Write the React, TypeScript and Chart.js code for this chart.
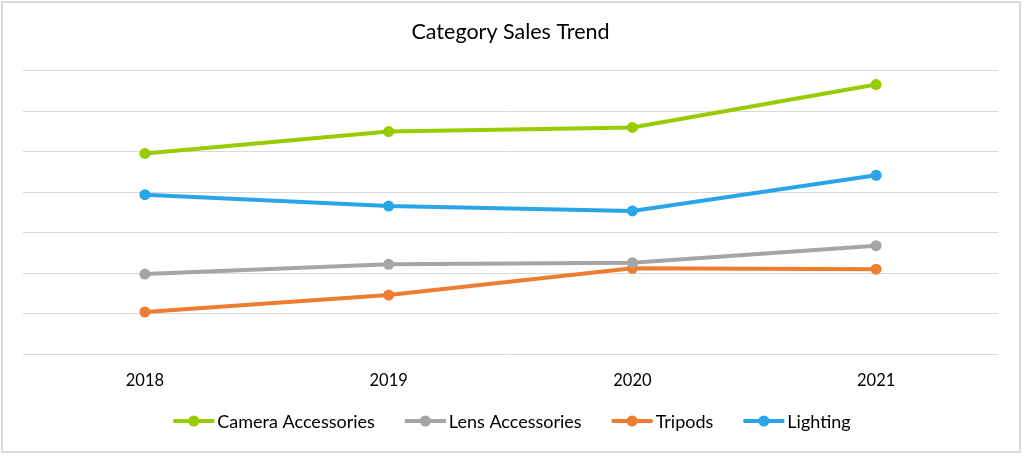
import React, { useEffect, useRef } from "react";
import { Chart, registerables } from "chart.js";

Chart.register(...registerables);

const years = ["2018", "2019", "2020", "2021"];
const cameraAccessories = [248, 275, 280, 333];
const lensAccessories = [99, 111, 113, 134];
const tripods = [52, 73, 106, 105];
const lighting = [197, 183, 177, 221];

const seriesNames = ["Camera Accessories", "Lens Accessories", "Tripods", "Lighting"];
const seriesColors = ["#99CC00", "#A5A5A5", "#ED7D31", "#2AA5E8"];

const FONT = "Lato, 'Noto Sans', sans-serif";

const LEGEND_LINE = 41;
const LEGEND_TEXT_GAP = 3;
const LEGEND_ITEM_GAP = 30;
const LEGEND_Y = 421;

const customLegend = {
  id: "customLegend",
  afterDraw(chart: any) {
    const ctx = chart.ctx as CanvasRenderingContext2D;
    ctx.save();
    ctx.font = `18px ${FONT}`;
    ctx.textBaseline = "middle";
    ctx.textAlign = "left";
    const items = chart.data.datasets.map((ds: any) => ({
      label: ds.label as string,
      color: ds.borderColor as string,
      w: ctx.measureText(ds.label).width,
    }));
    const total =
      items.reduce((s: number, it: any) => s + LEGEND_LINE + LEGEND_TEXT_GAP + it.w, 0) +
      LEGEND_ITEM_GAP * (items.length - 1);
    let x = chart.width / 2 - total / 2;
    const y = LEGEND_Y;
    items.forEach((it: any) => {
      ctx.strokeStyle = it.color;
      ctx.lineWidth = 4;
      ctx.lineCap = "butt";
      ctx.beginPath();
      ctx.moveTo(x, y);
      ctx.lineTo(x + LEGEND_LINE, y);
      ctx.stroke();
      ctx.fillStyle = it.color;
      ctx.beginPath();
      ctx.arc(x + LEGEND_LINE / 2, y, 5.5, 0, Math.PI * 2);
      ctx.fill();
      ctx.fillStyle = "#000";
      const tx = x + LEGEND_LINE + LEGEND_TEXT_GAP;
      ctx.fillText(it.label, tx, y + 1);
      x = tx + it.w + LEGEND_ITEM_GAP;
    });
    ctx.restore();
  },
};

export default function App() {
  const canvasRef = useRef<HTMLCanvasElement | null>(null);

  useEffect(() => {
    document.body.style.margin = "0";
    const canvas = canvasRef.current;
    if (!canvas) return;
    const values = [cameraAccessories, lensAccessories, tripods, lighting];
    const chart = new Chart(canvas, {
      type: "line",
      data: {
        labels: years,
        datasets: seriesNames.map((name, i) => ({
          label: name,
          data: values[i],
          borderColor: seriesColors[i],
          backgroundColor: seriesColors[i],
          borderWidth: 4,
          pointRadius: 5.5,
          pointBorderWidth: 0,
          pointBackgroundColor: seriesColors[i],
          tension: 0,
        })),
      },
      options: {
        responsive: false,
        animation: false,
        layout: { padding: { top: 10, bottom: 48, left: 23, right: 26 } },
        plugins: {
          legend: { display: false },
          tooltip: { enabled: false },
          title: {
            display: true,
            text: "Category Sales Trend",
            color: "#000",
            font: { family: FONT, size: 21.5, weight: "normal", lineHeight: 1.2 },
            padding: { top: 9, bottom: 26 },
          },
        },
        scales: {
          x: {
            offset: true,
            grid: { display: false, drawTicks: false },
            border: { display: false },
            ticks: {
              color: "#000",
              padding: 17,
              font: { family: FONT, size: 16.5, lineHeight: 1.2 },
            },
          },
          y: {
            min: 0,
            max: 350,
            ticks: { display: false, stepSize: 50 },
            grid: { color: "#D9D9D9", lineWidth: 1, drawTicks: false },
            border: { display: false },
          },
        },
      },
      plugins: [customLegend],
    });
    return () => chart.destroy();
  }, []);

  return (
    <div style={{ position: "fixed", left: 0, top: 0, width: 1024, height: 456, background: "#fff" }}>
      <div
        style={{
          position: "absolute",
          left: 1,
          top: 1,
          width: 1020,
          height: 452,
          boxSizing: "border-box",
          border: "2px solid #D9D9D9",
        }}
      />
      <canvas
        ref={canvasRef}
        width={1024}
        height={456}
        style={{ position: "absolute", left: 0, top: 0, width: 1024, height: 456 }}
      />
    </div>
  );
}
